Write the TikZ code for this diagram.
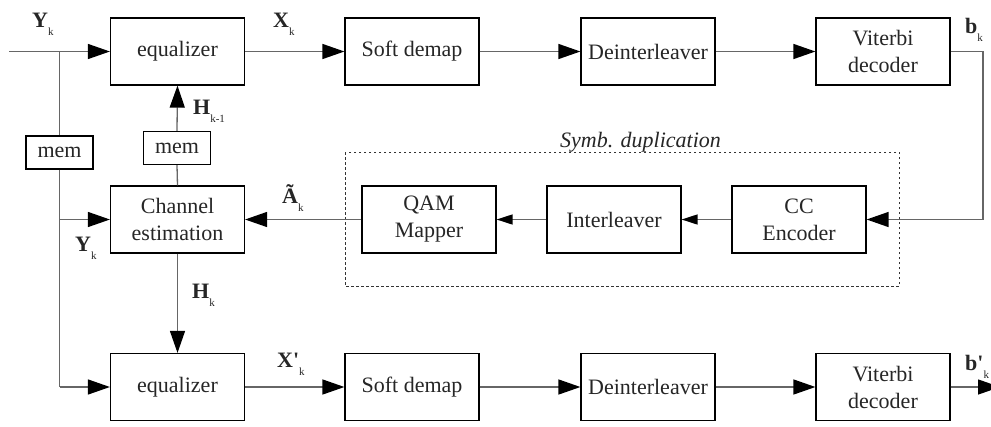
\documentclass[tikz,border=0pt]{standalone}
\usepackage{fontspec}
\setmainfont{Liberation Serif}
\usetikzlibrary{arrows.meta}

% signal label: bold symbol with a small lowered subscript
\newcommand\sig[2]{{\bfseries #1}\raisebox{-8.5pt}{\fontsize{11}{11}\selectfont #2}}

\begin{document}
\begin{tikzpicture}[x=1pt,y=-1pt,
  blk/.style={draw=black,line width=1.2pt,minimum width=134pt,minimum height=67pt,
    inner sep=0pt,align=center,font=\fontsize{22}{27}\selectfont,text=black!85},
  membox/.style={draw=black,line width=1.2pt,minimum width=67pt,minimum height=33pt,
    inner sep=0pt,font=\fontsize{22}{27}\selectfont,text=black!85},
  wire/.style={draw=black!60,line width=1.3pt},
  big/.style={wire,-{Triangle[length=22pt,width=15pt,color=black]}},
  small/.style={wire,-{Triangle[length=16pt,width=10pt,color=black]}},
  lbl/.style={anchor=base west,inner sep=0pt,font=\fontsize{22}{22}\selectfont,text=black!85}]
\useasboundingbox[fill=white] (0,0) rectangle (991,426);

% top receiver chain
\node[blk] (eq1) at (177.5,51.5) {equalizer};
\node[blk] (sd1) at (412,51.5) {Soft demap};
\node[blk] (di1) at (648,51.5) {Deinterleaver};
\node[blk] (vd1) at (883,51.5) {Viterbi\\decoder};

% middle row: estimation and symbol duplication
\node[blk] (ce) at (177.5,219.5) {Channel\\estimation};
\node[blk] (qam) at (429,219.5) {QAM\\Mapper};
\node[blk] (il) at (614,219.5) {Interleaver};
\node[blk] (cc) at (799,219.5) {CC\\Encoder};
\draw[black!80,line width=1pt,dash pattern=on 2.5pt off 2.5pt] (345,152) rectangle (899,286);
\node[anchor=base west,inner sep=0pt,font=\fontsize{22}{22}\selectfont\itshape,text=black!85]
  (dup) at (560,147) {Symb. duplication};

% bottom receiver chain
\node[blk] (eq2) at (177.5,387) {equalizer};
\node[blk] (sd2) at (412,387) {Soft demap};
\node[blk] (di2) at (648,387) {Deinterleaver};
\node[blk] (vd2) at (883,387) {Viterbi\\decoder};

% memories
\node[membox] (mem1) at (59.5,152.5) {mem};
\node[membox] (mem2) at (177,148) {mem};

% helper points
\coordinate (in) at (9,51.5);
\coordinate (j1) at (59.5,51.5);
\coordinate (j2) at (59.5,219.5);
\coordinate (j3) at (59.5,387);
\coordinate (fb1) at (983,51.5);
\coordinate (fb2) at (983,219.5);
\coordinate (out) at (1000,387);

% connectors
\draw[big] (in) -- (eq1.west);
\draw[wire] (j1) -- (mem1.north);
\draw[wire] (mem1.south) -- (j3);
\draw[big] (j2) -- (ce.west);
\draw[big] (j3) -- (eq2.west);
\draw[big] (eq1) -- (sd1);
\draw[big] (sd1) -- (di1);
\draw[big] (di1) -- (vd1);
\draw[big] (vd1.east) -- (fb1) -- (fb2) -- (cc.east);
\draw[small] (cc) -- (il);
\draw[small] (il) -- (qam);
\draw[big] (qam) -- (ce);
\draw[wire] (ce.north) -- (mem2.south);
\draw[big] (mem2.north) -- (eq1.south);
\draw[big] (ce) -- (eq2);
\draw[big] (eq2) -- (sd2);
\draw[big] (sd2) -- (di2);
\draw[big] (di2) -- (vd2);
\draw[big] (vd2.east) -- (out);

% signal labels
\node[lbl] (lY1) at (32,27) {\sig{Y}{k}};
\node[lbl] (lX1) at (273,27) {\sig{X}{k}};
\node[lbl] (lH1) at (193,114) {\sig{H}{k-1}};
\node[lbl] (lA) at (282,203) {\sig{Ã}{k}};
\node[lbl] (lY2) at (75,251) {\sig{Y}{k}};
\node[lbl] (lH2) at (192,298) {\sig{H}{k}};
\node[lbl] (lX2) at (277,367) {\sig{X\textquotesingle}{k}};
\node[lbl] (lb1) at (965,33) {\sig{b}{k}};
\node[lbl] (lb2) at (965,370) {\sig{b\textquotesingle}{k}};
\end{tikzpicture}
\end{document}
